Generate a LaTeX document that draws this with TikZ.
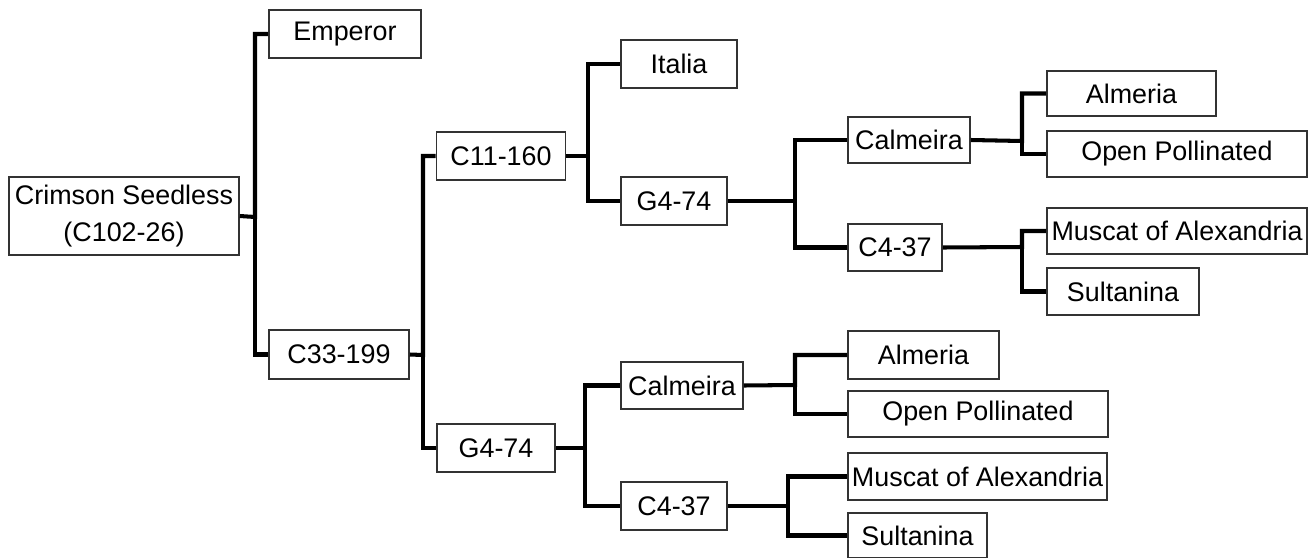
\documentclass[tikz,border=0pt]{standalone}
\usepackage{fontspec}
\setmainfont{Liberation Sans}
\usetikzlibrary{positioning}
\definecolor{boxgray}{HTML}{333333}

\begin{document}
\begin{tikzpicture}[
  x=0.02cm, y=-0.02cm,
  cultivar/.style={rectangle, draw=boxgray, line width=0.9pt, inner sep=0pt, align=center,
    font=\fontsize{15.3}{21}\selectfont},
  sz/.style 2 args={minimum width=#1*0.02cm, minimum height=#2*0.02cm},
  link/.style={draw=black, line width=2.3pt},
]
\useasboundingbox (0,0) rectangle (1309,558);

% generation 0 and 1
\node[cultivar, sz={230}{78}] (root) at (124,216) {Crimson Seedless\\(C102-26)};
\node[cultivar, sz={152}{48}] (emperor) at (345,34) {Emperor};
\node[cultivar, sz={140}{49}] (c33) at (339,354.5) {C33-199};

% generation 2
\node[cultivar, sz={129}{48}] (c11) at (501,156) {C11-160};
\node[cultivar, sz={118}{48}] (g4low) at (496,448) {G4-74};

% generation 3
\node[cultivar, sz={116}{48}] (italia) at (679,64) {Italia};
\node[cultivar, sz={106}{48}] (g4up) at (674,201) {G4-74};
\node[cultivar, sz={122}{47}] (calmlow) at (682,385.5) {Calmeira};
\node[cultivar, sz={106}{48}] (c437low) at (674,506) {C4-37};

% generation 4
\node[cultivar, sz={122}{46}] (calmup) at (909,140) {Calmeira};
\node[cultivar, sz={94}{47}] (c437up) at (895,247.5) {C4-37};
\node[cultivar, sz={151}{48}] (almlow) at (923.5,355) {Almeria};
\node[cultivar, sz={260}{46}] (openlow) at (978,414) {Open Pollinated};
\node[cultivar, sz={259}{47}] (musclow) at (977.5,476.5) {Muscat of Alexandria};
\node[cultivar, sz={139}{45}] (sultlow) at (917.5,535.5) {Sultanina};

% generation 5
\node[cultivar, sz={169}{45}] (almup) at (1131.5,93.5) {Almeria};
\node[cultivar, sz={260}{46}] (openup) at (1177,154) {Open Pollinated};
\node[cultivar, sz={260}{46}] (muscup) at (1177,231) {Muscat of Alexandria};
\node[cultivar, sz={152}{47}] (sultup) at (1123,291.5) {Sultanina};

% branch points
\coordinate (j0) at (255,217);
\coordinate (j1) at (423,355);
\coordinate (j2) at (588,156);
\coordinate (j3) at (795,201);
\coordinate (j4) at (1022,141);
\coordinate (j5) at (1022,247);
\coordinate (j6) at (585,448);
\coordinate (j7) at (795,385);
\coordinate (j8) at (788,506);

\draw[link] (root.east) -- (j0) |- (emperor.west);
\draw[link] (j0) |- (c33.west);
\draw[link] (c33.east) -- (j1) |- (c11.west);
\draw[link] (j1) |- (g4low.west);
\draw[link] (c11.east) -- (j2) |- (italia.west);
\draw[link] (j2) |- (g4up.west);
\draw[link] (g4up.east) -- (j3) |- (calmup.west);
\draw[link] (j3) |- (c437up.west);
\draw[link] (calmup.east) -- (j4) |- (almup.west);
\draw[link] (j4) |- (openup.west);
\draw[link] (c437up.east) -- (j5) |- (muscup.west);
\draw[link] (j5) |- (sultup.west);
\draw[link] (g4low.east) -- (j6) |- (calmlow.west);
\draw[link] (j6) |- (c437low.west);
\draw[link] (calmlow.east) -- (j7) |- (almlow.west);
\draw[link] (j7) |- (openlow.west);
\draw[link] (c437low.east) -- (j8) |- (musclow.west);
\draw[link] (j8) |- (sultlow.west);
\end{tikzpicture}
\end{document}
